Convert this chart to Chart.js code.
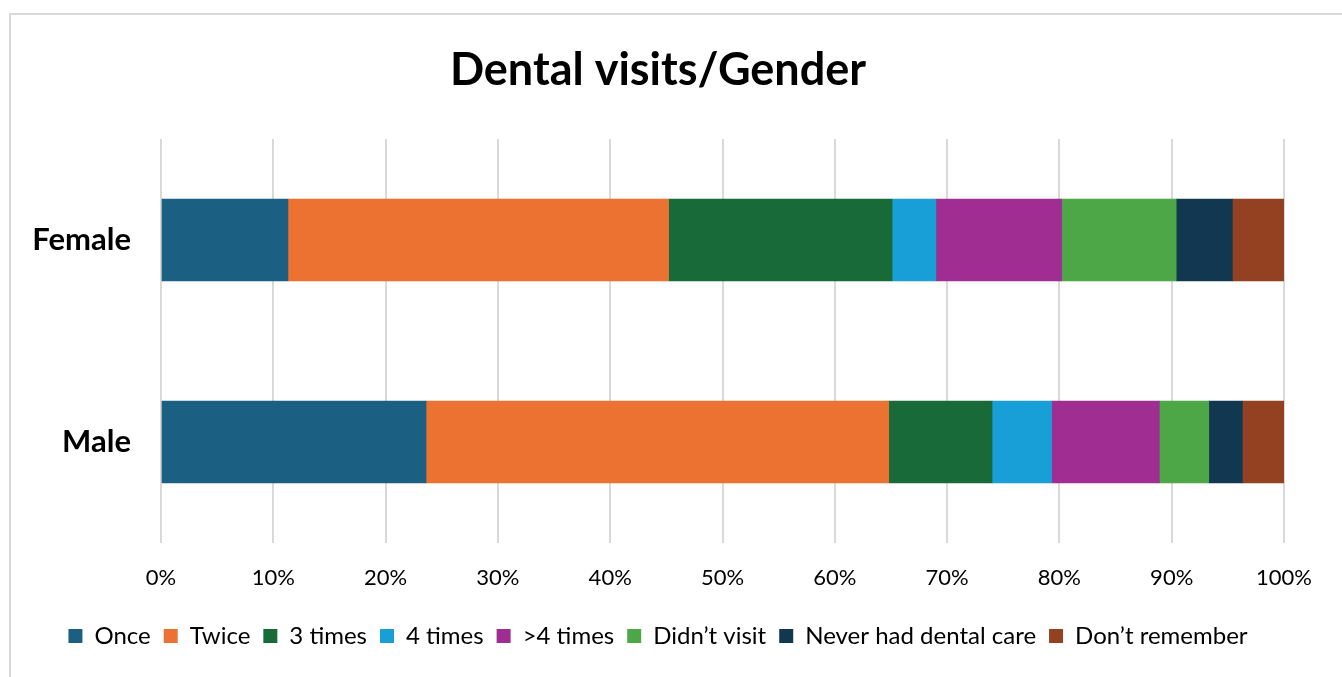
<!DOCTYPE html>
<html>
<head>
<meta charset="utf-8">
<title>Dental visits/Gender</title>
<script src="https://cdn.jsdelivr.net/npm/chart.js@4/dist/chart.umd.min.js"></script>
<style>
  body { margin: 0; background: #fff; overflow: hidden; }
  #wrap { position: relative; width: 1342px; height: 677px; }
  #frame {
    position: absolute; left: 9px; top: 13px; width: 1400px; height: 700px;
    border: 2px solid #d9d9d9; pointer-events: none;
  }
</style>
</head>
<body>
<div id="wrap">
  <canvas id="chart" width="1342" height="677"></canvas>
  <div id="frame"></div>
</div>
<script>
// share of respondents (%) per visit frequency
const genders = ['Female', 'Male'];
const visitTypes = ['Once', 'Twice', '3 times', '4 times', '>4 times', 'Didn\u2019t visit', 'Never had dental care', 'Don\u2019t remember'];
const once = [11.3, 23.6];
const twice = [33.9, 41.2];
const threeTimes = [19.9, 9.2];
const fourTimes = [3.9, 5.3];
const moreThanFour = [11.2, 9.6];
const didntVisit = [10.2, 4.4];
const neverHadCare = [5.0, 3.0];
const dontRemember = [4.6, 3.7];
const xTicks = [0, 10, 20, 30, 40, 50, 60, 70, 80, 90, 100];

const colors = ['#1b5f82', '#eb7231', '#186b38', '#189fd7', '#a02d91', '#4ea747', '#113850', '#934121'];
const series = [once, twice, threeTimes, fourTimes, moreThanFour, didntVisit, neverHadCare, dontRemember];

const fontFamily = 'Lato, "Open Sans", sans-serif';

const ctx = document.getElementById('chart').getContext('2d');
new Chart(ctx, {
    type: 'bar',
    data: {
        labels: genders,
        datasets: series.map((values, i) => ({
            label: visitTypes[i],
            data: values,
            backgroundColor: colors[i],
            borderWidth: 0,
            barThickness: 82
        }))
    },
    options: {
        indexAxis: 'y',
        responsive: false,
        animation: false,
        layout: { padding: { left: 32, right: 58, top: 0, bottom: 19 } },
        plugins: {
            title: {
                display: true,
                text: 'Dental visits/Gender',
                color: '#000',
                font: { family: fontFamily, size: 45, weight: 'bold', lineHeight: 1.2 },
                padding: { top: 43, bottom: 42 }
            },
            legend: {
                position: 'bottom',
                labels: {
                    color: '#000',
                    font: { family: fontFamily, size: 24 },
                    boxWidth: 14,
                    boxHeight: 14,
                    padding: 13
                }
            },
            tooltip: { enabled: false }
        },
        scales: {
            x: {
                stacked: true,
                min: 0,
                max: 100,
                afterBuildTicks: (scale) => {
                    scale.ticks = xTicks.map(v => ({ value: v }));
                },
                afterFit: (scale) => { scale.height = 68; },
                grid: { color: '#d9d9d9', lineWidth: 2, drawTicks: false },
                border: { display: false },
                ticks: {
                    color: '#000',
                    padding: 22,
                    font: { family: fontFamily, size: 22 },
                    callback: (v) => v + '%'
                }
            },
            y: {
                stacked: true,
                // labels are clipped to the axis box, so it must reach x=32
                afterFit: (scale) => { scale.width = 129; },
                grid: { display: false, drawTicks: false },
                border: { display: false },
                ticks: {
                    color: '#000',
                    padding: 30,
                    font: { family: fontFamily, size: 31, weight: 'bold' }
                }
            }
        }
    }
});
</script>
</body>
</html>
